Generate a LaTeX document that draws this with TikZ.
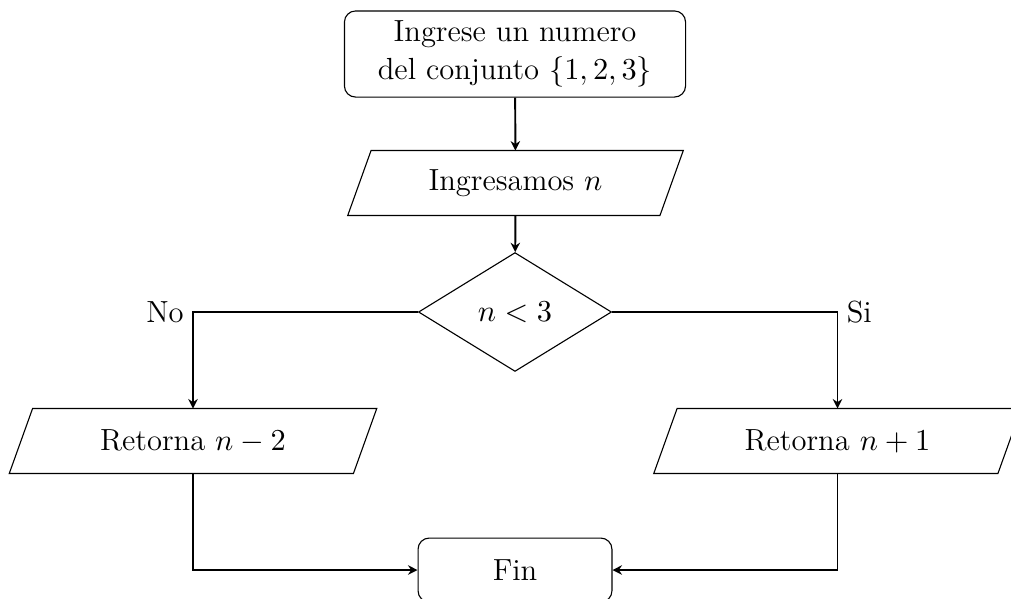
\documentclass[tikz,border=0pt]{standalone}
\usetikzlibrary{shapes.geometric,arrows.meta}
\tikzset{
  every node/.style={font=\fontsize{11}{13.6}\selectfont},
  box/.style={draw, thin, rounded corners=4pt, align=center, inner sep=2pt},
  para/.style={inner sep=2pt, minimum height=23pt},
  dec/.style={draw, thin, diamond, minimum width=69.5pt, minimum height=42.8pt, inner sep=0pt},
  conn/.style={line width=0.7pt, -{Stealth[length=3.4pt,width=3.4pt]}},
}
\newcommand{\parashape}[2]{%
  \draw[thin] ([xshift=#2]#1.north west) -- ([xshift=#2]#1.north east)
    -- ([xshift=-#2]#1.south east) -- ([xshift=-#2]#1.south west) -- cycle;}
\begin{document}
\begin{tikzpicture}[x=0.36pt, y=-0.36pt]
\useasboundingbox (0,0) rectangle (1011,598);
\node[box, minimum width=122.8pt, minimum height=31pt] (start) at (515,54)
  {Ingrese un numero\\del conjunto $\{1,2,3\}$};
\node[para, minimum width=112pt] (inp) at (515.5,183) {Ingresamos $n$};
\parashape{inp}{4.2pt}
\node[dec] (dec) at (515,312) {$n<3$};
\node[para, minimum width=123.5pt] (left) at (193,441) {Retorna $n-2$};
\parashape{left}{4.2pt}
\node[para, minimum width=123.5pt] (right) at (837.5,441) {Retorna $n+1$};
\parashape{right}{4.2pt}
\node[box, minimum width=69.8pt, minimum height=23pt] (fin) at (515,570) {Fin};

\draw[conn] (start) -- (inp);
\draw[conn] (inp) -- (dec);
\draw[conn] (dec.west) -| node[pos=0.5, left, inner sep=3pt] {No} (left.north);
\draw[conn] (dec.east) -| node[pos=0.5, right, inner sep=3pt] {Si} (right.north);
\draw[conn] (left.south) |- (fin.west);
\draw[conn] (right.south) |- (fin.east);
\end{tikzpicture}
\end{document}
